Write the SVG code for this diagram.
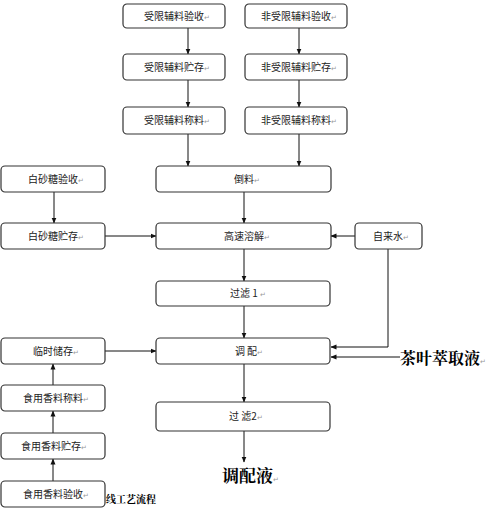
<svg xmlns="http://www.w3.org/2000/svg" width="486" height="510" viewBox="0 0 486 510">
<defs>
<marker id="ah" markerWidth="6" markerHeight="6" refX="5.5" refY="3" orient="auto" markerUnits="userSpaceOnUse">
<path d="M0,0.5 L6,3 L0,5.5 Z" fill="#111"/>
</marker>
</defs>
<style>
.box{fill:#fff;stroke:#333;stroke-width:1.2}
.t{font-family:"Noto Sans CJK SC","Noto Sans CJK JP",sans-serif;font-size:10px;fill:#222;text-anchor:middle}
.m{font-size:7px;fill:#999}
.c{stroke:#111;stroke-width:1;fill:none;marker-end:url(#ah)}
.big{font-family:"Noto Serif CJK SC","Noto Sans CJK SC",serif;font-weight:bold;fill:#000}
</style>
<rect width="486" height="510" fill="#fff"/>
<g id="connectors">
<line class="c" x1="188" y1="28" x2="188" y2="54"/>
<line class="c" x1="299" y1="28" x2="299" y2="54"/>
<line class="c" x1="188" y1="80" x2="188" y2="107"/>
<line class="c" x1="299" y1="80" x2="299" y2="107"/>
<line class="c" x1="188" y1="134" x2="188" y2="166"/>
<line class="c" x1="299" y1="134" x2="299" y2="166"/>
<line class="c" x1="244" y1="192" x2="244" y2="223"/>
<line class="c" x1="54" y1="192" x2="54" y2="223"/>
<line class="c" x1="105" y1="236" x2="156" y2="236"/>
<line class="c" x1="355" y1="236" x2="331" y2="236"/>
<line class="c" x1="244" y1="249" x2="244" y2="281"/>
<line class="c" x1="244" y1="306" x2="244" y2="338"/>
<polyline class="c" points="388,249 388,347 331,347"/>
<line class="c" x1="400" y1="357" x2="331" y2="357"/>
<line class="c" x1="105" y1="351" x2="156" y2="351"/>
<line class="c" x1="53" y1="385" x2="53" y2="364"/>
<line class="c" x1="53" y1="433" x2="53" y2="411"/>
<line class="c" x1="53" y1="481" x2="53" y2="459"/>
<line class="c" x1="244" y1="364" x2="244" y2="402"/>
<line class="c" x1="244" y1="431" x2="244" y2="462"/>
</g>
<g id="n1"><rect class="box" x="123" y="4" width="102" height="24" rx="4"/><text class="t" x="177" y="20">受限辅料验收<tspan class="m">↵</tspan></text></g>
<g id="n2"><rect class="box" x="245" y="4" width="102" height="24" rx="4"/><text class="t" x="299" y="20">非受限辅料验收<tspan class="m">↵</tspan></text></g>
<g id="n3"><rect class="box" x="123" y="54" width="102" height="26" rx="4"/><text class="t" x="177" y="71">受限辅料贮存<tspan class="m">↵</tspan></text></g>
<g id="n4"><rect class="box" x="245" y="54" width="102" height="26" rx="4"/><text class="t" x="299" y="71">非受限辅料贮存<tspan class="m">↵</tspan></text></g>
<g id="n5"><rect class="box" x="123" y="107" width="102" height="27" rx="4"/><text class="t" x="177" y="124">受限辅料称料<tspan class="m">↵</tspan></text></g>
<g id="n6"><rect class="box" x="245" y="107" width="102" height="27" rx="4"/><text class="t" x="299" y="124">非受限辅料称料<tspan class="m">↵</tspan></text></g>
<g id="n7"><rect class="box" x="1" y="166" width="104" height="26" rx="4"/><text class="t" x="56" y="183">白砂糖验收<tspan class="m">↵</tspan></text></g>
<g id="n8"><rect class="box" x="156" y="166" width="175" height="26" rx="4"/><text class="t" x="247" y="183">倒料<tspan class="m">↵</tspan></text></g>
<g id="n9"><rect class="box" x="1" y="223" width="104" height="26" rx="4"/><text class="t" x="56" y="240">白砂糖贮存<tspan class="m">↵</tspan></text></g>
<g id="n10"><rect class="box" x="156" y="223" width="175" height="26" rx="4"/><text class="t" x="247" y="240">高速溶解<tspan class="m">↵</tspan></text></g>
<g id="n11"><rect class="box" x="355" y="223" width="67" height="26" rx="4"/><text class="t" x="391" y="240">自来水<tspan class="m">↵</tspan></text></g>
<g id="n12"><rect class="box" x="156" y="281" width="174" height="25" rx="4"/><text class="t" x="248" y="297">过滤 1 <tspan class="m">↵</tspan></text></g>
<g id="n13"><rect class="box" x="1" y="338" width="104" height="26" rx="4"/><text class="t" x="56" y="355">临时储存<tspan class="m">↵</tspan></text></g>
<g id="n14"><rect class="box" x="156" y="338" width="174" height="26" rx="4"/><text class="t" x="249" y="355">调 配<tspan class="m">↵</tspan></text></g>
<g id="n15"><text class="big" x="400" y="364" font-size="16">茶叶萃取液<tspan class="m" font-weight="normal" font-size="9">↵</tspan></text></g>
<g id="n16"><rect class="box" x="1" y="385" width="104" height="26" rx="4"/><text class="t" x="56" y="402">食用香料称料<tspan class="m">↵</tspan></text></g>
<g id="n17"><rect class="box" x="156" y="402" width="174" height="29" rx="4"/><text class="t" x="246" y="420">过 滤2<tspan class="m" font-size="9">↵</tspan></text></g>
<g id="n18"><rect class="box" x="1" y="433" width="104" height="26" rx="4"/><text class="t" x="54" y="450">食用香料贮存<tspan class="m">↵</tspan></text></g>
<g id="n19"><text class="big" x="222" y="482" font-size="17">调配液<tspan class="m" font-weight="normal" font-size="9">↵</tspan></text></g>
<g id="n20"><rect class="box" x="1" y="481" width="104" height="26" rx="4"/><text class="t" x="56" y="498">食用香料验收<tspan class="m">↵</tspan></text></g>
<g id="caption"><text class="big" x="106" y="503" font-size="10">线工艺流程</text></g>
</svg>
